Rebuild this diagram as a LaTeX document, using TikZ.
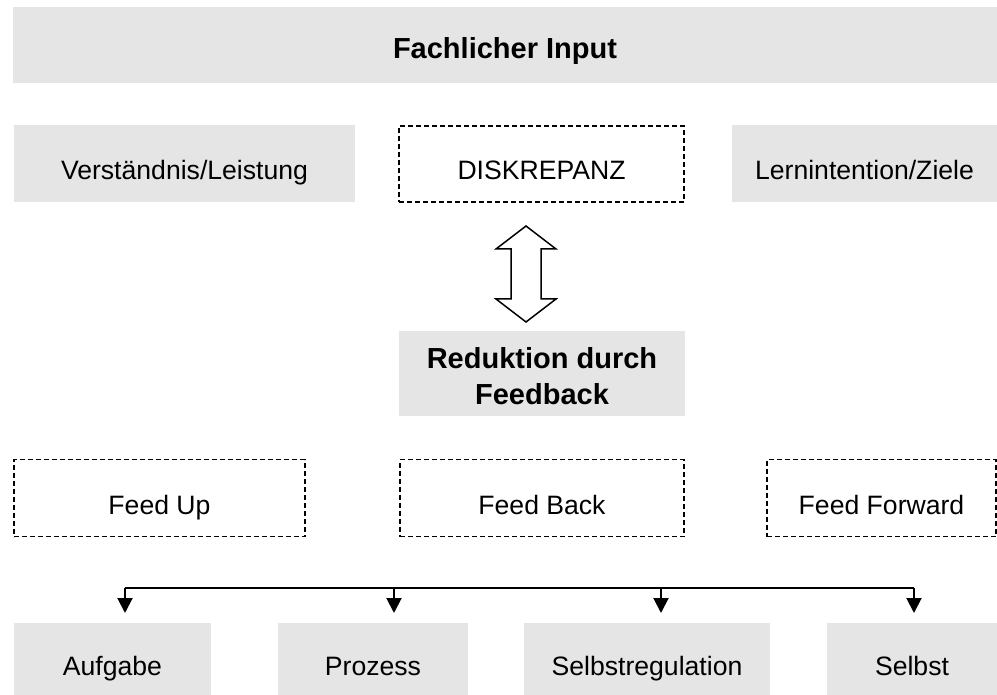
\documentclass[tikz,border=0pt]{standalone}
\usepackage{fontspec}
\setmainfont{Liberation Sans}
\usetikzlibrary{arrows.meta}
\definecolor{boxgray}{RGB}{229,229,229}
\begin{document}
\begin{tikzpicture}[x=1pt,y=-1pt,
  every node/.style={inner sep=0pt, outer sep=0pt},
  txtreg/.style={font=\fontsize{26.6}{32}\selectfont},
  txtbold/.style={font=\fontsize{29}{37}\selectfont\bfseries},
  graybox/.style={fill=boxgray, draw=none, txtreg},
  dashbox/.style={draw=black, line width=1.5pt, dash pattern=on 5pt off 3pt, txtreg},
  tshift/.style={text height=#1, text depth=0pt},
  conn/.style={line width=2pt, draw=black},
  tip/.style={-{Triangle[width=15pt,length=15pt]}, shorten >=10pt}
]
\useasboundingbox (0,0) rectangle (997,695);

% top
\node[graybox, txtbold, tshift=28pt, minimum width=984pt, minimum height=76pt] (input) at (505,45) {Fachlicher Input};

% row 2
\node[graybox, tshift=33pt, minimum width=341pt, minimum height=77pt] (vers) at (184.5,163.5) {Verständnis/Leistung};
\node[dashbox, tshift=32pt, minimum width=285pt, minimum height=76pt] (disk) at (541.5,164) {DISKREPANZ};
\node[graybox, tshift=33pt, minimum width=265pt, minimum height=77pt] (lern) at (864.5,163.5) {Lernintention/Ziele};

% double arrow
\draw[line width=1.5pt, fill=white, line join=miter]
  (526,226) -- (556,249) -- (541,249) -- (541,299) -- (556,299) -- (526,322)
  -- (496,299) -- (511,299) -- (511,249) -- (496,249) -- cycle;

% Reduktion
\node[graybox, minimum width=286pt, minimum height=85pt] (red) at (542,373.5)
  {\raisebox{5.5pt}[0pt][0pt]{\fontsize{29}{37}\selectfont\bfseries\begin{tabular}[t]{@{}c@{}}Reduktion durch\\Feedback\end{tabular}}};

% row 3
\node[dashbox, tshift=32pt, minimum width=291pt, minimum height=77pt] (fup) at (159.5,498) {Feed Up};
\node[dashbox, tshift=32pt, minimum width=284pt, minimum height=77pt] (fback) at (542,498) {Feed Back};
\node[dashbox, tshift=32pt, minimum width=229pt, minimum height=77pt] (ffwd) at (881.5,498) {Feed Forward};

% bottom
\node[graybox, tshift=32pt, minimum width=197pt, minimum height=72pt] (auf) at (112.5,659) {Aufgabe};
\node[graybox, tshift=32pt, minimum width=190pt, minimum height=72pt] (proz) at (373,659) {Prozess};
\node[graybox, tshift=32pt, minimum width=246pt, minimum height=72pt] (sreg) at (647,659) {Selbstregulation};
\node[graybox, tshift=32pt, minimum width=170pt, minimum height=72pt] (selbst) at (912,659) {Selbst};

% bus
\coordinate (b1) at (125,588);
\coordinate (b2) at (394,588);
\coordinate (b3) at (661,588);
\coordinate (b4) at (914,588);
\draw[conn] (b1) -- (b4);
\draw[conn, tip] (b1) -- (b1 |- auf.north);
\draw[conn, tip] (b2) -- (b2 |- proz.north);
\draw[conn, tip] (b3) -- (b3 |- sreg.north);
\draw[conn, tip] (b4) -- (b4 |- selbst.north);
\end{tikzpicture}
\end{document}
